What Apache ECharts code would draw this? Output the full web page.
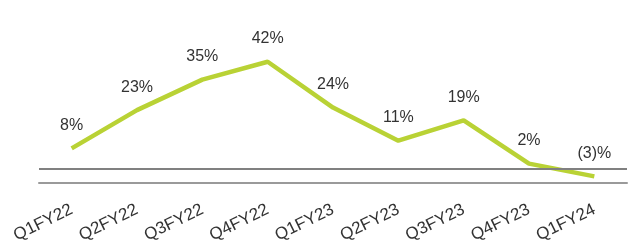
<!DOCTYPE html>
<html>
<head>
<meta charset="utf-8">
<script src="https://cdn.jsdelivr.net/npm/echarts@6/dist/echarts.min.js"></script>
<style>
  html, body { margin: 0; padding: 0; background: #fff; }
  #main { width: 628px; height: 247px; }
</style>
</head>
<body>
<div id="main"></div>
<script>
// quarters and growth values (%)
const quarters = ['Q1FY22', 'Q2FY22', 'Q3FY22', 'Q4FY22', 'Q1FY23', 'Q2FY23', 'Q3FY23', 'Q4FY23', 'Q1FY24'];
const growth = [8, 23, 35, 42, 24, 11, 19, 2, -3];

const fmt = v => v < 0 ? '(' + Math.abs(v) + ')%' : v + '%';

var chartDom = document.getElementById('main');
var myChart = echarts.init(chartDom);

let option = {
    animation: false,
    grid: { left: 39, right: 1, top: 41.4, bottom: 64.3 },
    xAxis: {
        type: 'category',
        data: quarters,
        boundaryGap: true,
        axisLine: { show: true, onZero: false, lineStyle: { color: '#9a9a9a', width: 2 } },
        axisTick: { show: false },
        axisLabel: {
            rotate: 26,
            margin: 26,
            fontFamily: 'Liberation Sans, Arial, sans-serif',
            fontSize: 17,
            color: '#333'
        }
    },
    yAxis: {
        type: 'value',
        min: -5.5,
        max: 50,
        show: false
    },
    series: [
        {
            type: 'line',
            data: growth,
            symbol: 'circle',
            symbolSize: 2,
            itemStyle: { color: 'rgba(0,0,0,0)' },
            lineStyle: { color: '#b9d235', width: 4.5 },
            label: {
                show: true,
                position: 'top',
                distance: 14,
                fontFamily: 'Liberation Sans, Arial, sans-serif',
                fontSize: 16,
                color: '#333',
                formatter: p => fmt(p.value)
            },
            markLine: {
                silent: true,
                symbol: 'none',
                label: { show: false },
                lineStyle: { color: '#808080', width: 2, type: 'solid' },
                data: [{ yAxis: 0 }]
            },
            z: 3
        }
    ]
};

myChart.setOption(option);
</script>
</body>
</html>
